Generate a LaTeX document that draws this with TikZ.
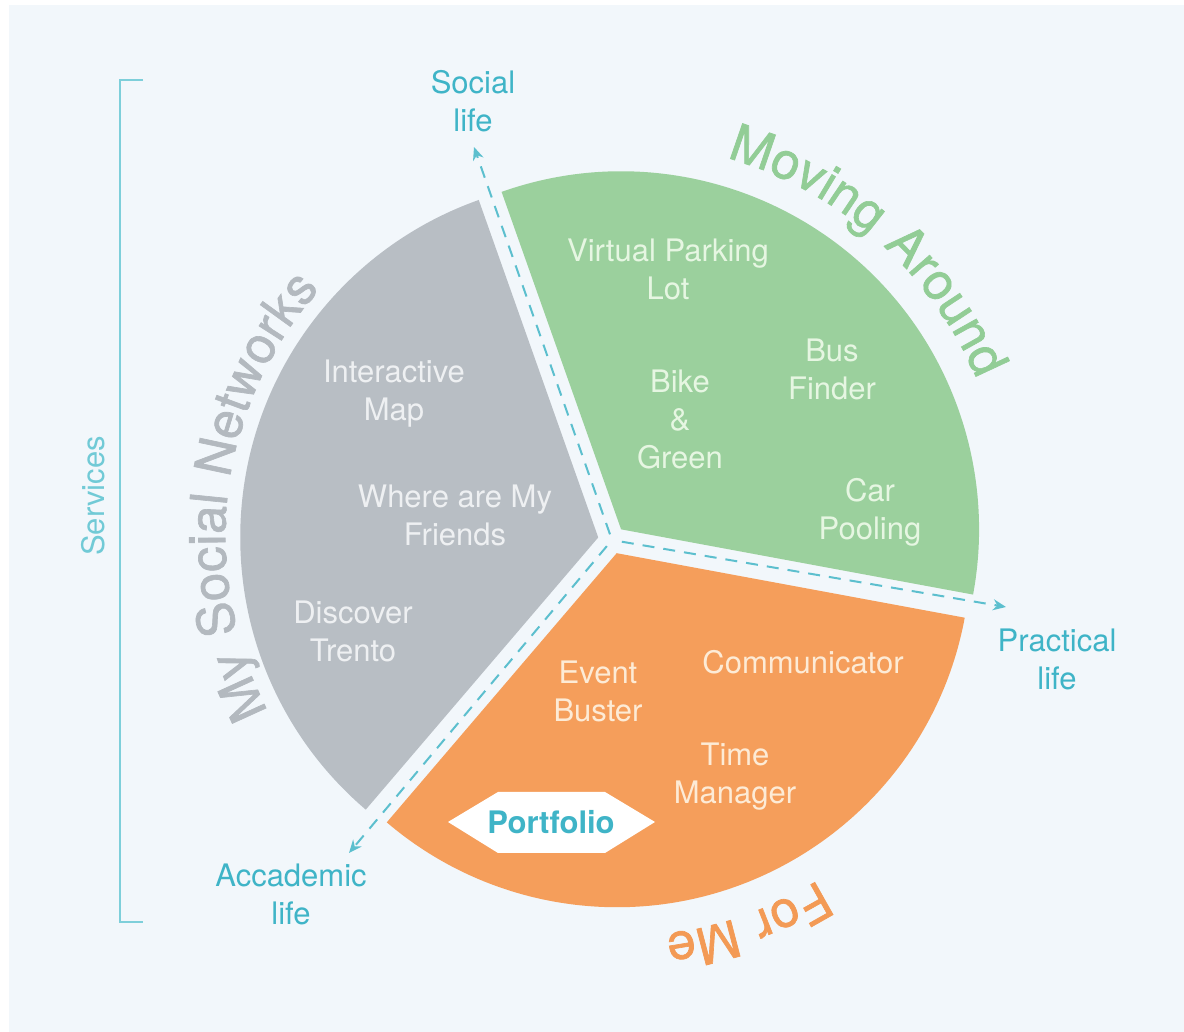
\documentclass[tikz,border=0pt]{standalone}
\usepackage{fontspec}
\setmainfont{TeX Gyre Heros}
\newfontfamily\titlefam[FakeBold=1.3,LetterSpace=5]{TeX Gyre Heros}
\usetikzlibrary{calc,arrows.meta,decorations.text}
\definecolor{bgc}{HTML}{F2F7FB}
\definecolor{secgreen}{HTML}{9BD09D}
\definecolor{secgray}{HTML}{B8BEC4}
\definecolor{secorange}{HTML}{F59E5B}
\definecolor{txgreen}{HTML}{E6F6E2}
\definecolor{txgray}{HTML}{EEF0F2}
\definecolor{txorange}{HTML}{FDEBD6}
\definecolor{tigreen}{HTML}{92CD96}
\definecolor{tigray}{HTML}{B3B9BF}
\definecolor{tiorange}{HTML}{F39A55}
\definecolor{teal}{HTML}{3FB4C7}
\definecolor{tealline}{HTML}{5CBFCE}
\definecolor{bracketc}{HTML}{7ECFDA}
\newcommand\innerfont{\fontsize{31}{38}\selectfont}
\newcommand\titlefont{\titlefam\fontsize{51}{51}\selectfont}
\tikzset{
  intext/.style={align=center, font=\innerfont, inner sep=0pt},
  lifelabel/.style={align=center, font=\innerfont, text=teal, inner sep=0pt},
  lifeline/.style={draw=tealline, line width=2pt, dash pattern=on 12pt off 9pt, -{Stealth[length=13pt,width=11pt]}},
}
\begin{document}
\begin{tikzpicture}[x=1pt,y=1pt]
\useasboundingbox (0,0) rectangle (1184,1032);
\fill[white] (0,0) rectangle (1184,1032);
\fill[bgc] (9,0) rectangle (1184,1027);
\coordinate (C) at (612,492);
\coordinate (G) at ($(C)+(49.5:14pt)$);
\coordinate (S) at ($(C)+(169.5:14pt)$);
\coordinate (O) at ($(C)+(-70.5:14pt)$);
% sectors
\fill[secgreen] (G) -- ++(109.5:358pt) arc[start angle=109.5, end angle=-10.5, radius=358pt] -- cycle;
\fill[secgray] (S) -- ++(229.5:358pt) arc[start angle=229.5, end angle=109.5, radius=358pt] -- cycle;
\fill[secorange] (O) -- ++(-10.5:354pt) arc[start angle=-10.5, end angle=-130.5, radius=354pt] -- cycle;
% dashed lines
\coordinate (s0) at ($(C)+(109.5:6pt)$);
\coordinate (p0) at ($(C)+(-10:10pt)$);
\coordinate (a0) at ($(C)+(230:8pt)$);
\coordinate (s1) at (474,885);
\coordinate (p1) at (1006,425);
\coordinate (a1) at (349,179);
\draw[lifeline] (s0) -- (s1);
\draw[lifeline] (p0) -- (p1);
\draw[lifeline] (a0) -- (a1);
% labels
\node[lifelabel] (socl) at (473,931) {Social\\life};
\node[lifelabel] (pracl) at (1057,373) {Practical\\life};
\node[lifelabel] (acadl) at (291,138) {Accademic\\life};
% bracket
\draw[bracketc, line width=2pt] (143,952) -- (120,952) -- (120,110) -- (143,110);
\node[font=\innerfont, text=bracketc!80!teal, rotate=90, inner sep=0pt] (serv) at (93,536) {Services};
% inner texts
\node[intext, text=txgreen] (vpl) at (668,763) {Virtual Parking\\Lot};
\node[intext, text=txgreen] (bike) at (680,613) {Bike\\\&\\Green};
\node[intext, text=txgreen] (bus) at (832,663) {Bus\\Finder};
\node[intext, text=txgreen] (car) at (870,520) {Car\\Pooling};
\node[intext, text=txgray] (imap) at (394,638) {Interactive\\Map};
\node[intext, text=txgray] (wamf) at (455,517) {Where are My\\Friends};
\node[intext, text=txgray] (disc) at (353,401) {Discover\\Trento};
\node[intext, text=txorange] (evb) at (598,341) {Event\\Buster};
\node[intext, text=txorange] (comm) at (803,370) {Communicator};
\node[intext, text=txorange] (tman) at (735,255) {Time\\Manager};
% portfolio
\fill[white] (448,210) -- (498,240) -- (605,240) -- (655,210) -- (605,179) -- (498,179) -- cycle;
\node[font=\innerfont\bfseries, text=teal, inner sep=0pt] (port) at (551,210) {Portfolio};
% titles
\path[decorate, decoration={text along path, text align=center, text color=tigreen,
  text={|\titlefont|Moving Around}}]
  (G) ++(93.5:386pt) arc[start angle=93.5, end angle=3.5, radius=386pt];
\path[decorate, decoration={text along path, text align=center, text color=tigray,
  text={|\titlefont|My Social Networks}}]
  (S) ++(223:373pt) arc[start angle=223, end angle=123, radius=373pt];
\path[decorate, decoration={text along path, text align=center, text color=tiorange,
  text={|\titlefont|For Me}}]
  (O) ++(-40.5:384pt) arc[start angle=-40.5, end angle=-100.5, radius=384pt];
\end{tikzpicture}
\end{document}
